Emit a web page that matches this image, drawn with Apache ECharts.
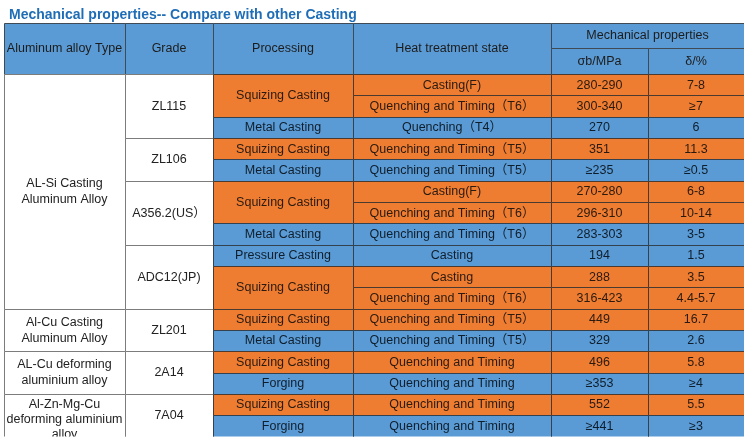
<!DOCTYPE html>
<html>
<head>
<meta charset="utf-8">
<script src="https://cdn.jsdelivr.net/npm/echarts@6/dist/echarts.min.js"></script>
<style>html,body{margin:0;padding:0;background:#fff}#c{width:750px;height:440px}</style>
</head>
<body>
<div id="c"></div>
<script>
// ---------- DATA ----------
const titleText = 'Mechanical properties-- Compare with other Casting';
const headerLabels = ['Aluminum alloy Type', 'Grade', 'Processing', 'Heat treatment state'];
const groupHeader = 'Mechanical properties';
const subHeaders = ['σb/MPa', 'δ/%'];

const alloyTypes = ['AL-Si Casting\nAluminum Alloy', 'Al-Cu Casting\nAluminum Alloy', 'AL-Cu deforming\naluminium alloy', 'Al-Zn-Mg-Cu\ndeforming aluminium\nalloy'];
const alloyTypeSpans = [11, 2, 2, 2];

const grades = ['ZL115', 'ZL106', 'A356.2(US）', 'ADC12(JP)', 'ZL201', '2A14', '7A04'];
const gradeSpans = [3, 2, 3, 3, 2, 2, 2];

const processing = ['Squizing Casting', 'Metal Casting', 'Squizing Casting', 'Metal Casting', 'Squizing Casting', 'Metal Casting', 'Pressure Casting', 'Squizing Casting', 'Squizing Casting', 'Metal Casting', 'Squizing Casting', 'Forging', 'Squizing Casting', 'Forging'];
const processingSpans = [2, 1, 1, 1, 2, 1, 1, 2, 1, 1, 1, 1, 1, 1];

const heatTreatment = ['Casting(F)', 'Quenching and Timing（T6）', 'Quenching（T4）', 'Quenching and Timing（T5）', 'Quenching and Timing（T5）', 'Casting(F)', 'Quenching and Timing（T6）', 'Quenching and Timing（T6）', 'Casting', 'Casting', 'Quenching and Timing（T6）', 'Quenching and Timing（T5）', 'Quenching and Timing（T5）', 'Quenching and Timing', 'Quenching and Timing', 'Quenching and Timing', 'Quenching and Timing'];
const tensileStrength = ['280-290', '300-340', '270', '351', '≥235', '270-280', '296-310', '283-303', '194', '288', '316-423', '449', '329', '496', '≥353', '552', '≥441'];
const elongation = ['7-8', '≥7', '6', '11.3', '≥0.5', '6-8', '10-14', '3-5', '1.5', '3.5', '4.4-5.7', '16.7', '2.6', '5.8', '≥4', '5.5', '≥3'];

// ---------- LAYOUT / STYLE ----------
const colEdges = [0, 121, 209, 349, 547, 644, 740];
const headerTop = -2.392, headerMid = -1.22;
const ORANGE = '#EE7D32', BLUE = '#5B9BD5', WHITE = '#ffffff';
const FONT = 'Liberation Sans, Arial, Noto Sans CJK SC, sans-serif';

const cells = [];
function addCell(c0, c1, r0, r1, text, kind, extra) {
  cells.push(Object.assign({ c0, c1, r0, r1, text, kind }, extra || {}));
}
// header
headerLabels.forEach((t, i) => addCell(i, i + 1, headerTop, 0, t, 'header'));
addCell(4, 6, headerTop, headerMid, groupHeader, 'header');
subHeaders.forEach((t, i) => addCell(4 + i, 5 + i, headerMid, 0, t, 'header'));

// body
let r = 0;
alloyTypes.forEach((t, i) => {
  addCell(0, 1, r, r + alloyTypeSpans[i], t, 'white', i === 3 ? { lh: 15, dy: 4 } : { lh: 16 });
  r += alloyTypeSpans[i];
});
r = 0;
grades.forEach((t, i) => { addCell(1, 2, r, r + gradeSpans[i], t, 'white'); r += gradeSpans[i]; });
r = 0;
const rowKinds = [];
processing.forEach((t, i) => {
  const k = t === 'Squizing Casting' ? 'orange' : 'blue';
  addCell(2, 3, r, r + processingSpans[i], t, k);
  for (let j = 0; j < processingSpans[i]; j++) rowKinds.push(k);
  r += processingSpans[i];
});
heatTreatment.forEach((t, i) => addCell(3, 4, i, i + 1, t, rowKinds[i]));
tensileStrength.forEach((t, i) => addCell(4, 5, i, i + 1, t, rowKinds[i]));
elongation.forEach((t, i) => addCell(5, 6, i, i + 1, t, rowKinds[i]));

const styleOf = {
  header: { fill: BLUE, stroke: '#3f4a55', text: '#1c1c1c' },
  orange: { fill: ORANGE, stroke: '#4a3a30', text: '#2a1a10' },
  blue: { fill: BLUE, stroke: '#34414e', text: '#0f1e2c' },
  white: { fill: WHITE, stroke: '#7c7c7c', text: '#222222' }
};

const seriesData = cells.map((c, i) => [colEdges[c.c0], colEdges[c.c1], c.r0, c.r1, i]);

const chart = echarts.init(document.getElementById('c'), null, { renderer: 'canvas' });
chart.setOption({
  animation: false,
  title: {
    text: titleText, left: 4, top: 3,
    textStyle: { fontSize: 14, fontWeight: 'bold', color: '#1F6DB6', fontFamily: FONT }
  },
  grid: { left: 4, right: 6, top: 23, bottom: 3.5 },
  xAxis: { type: 'value', min: 0, max: 740, show: false },
  yAxis: { type: 'value', min: headerTop, max: 17, inverse: true, show: false },
  series: [{
    type: 'custom',
    clip: true,
    encode: { x: [0, 1], y: [2, 3] },
    data: seriesData,
    renderItem: function (params, api) {
      const c = cells[api.value(4)];
      const p0 = api.coord([api.value(0), api.value(2)]);
      const p1 = api.coord([api.value(1), api.value(3)]);
      const s = styleOf[c.kind];
      const x = Math.round(p0[0]) + 0.5, y = Math.round(p0[1]) + 0.5;
      const w = Math.round(p1[0]) - Math.round(p0[0]), h = Math.round(p1[1]) - Math.round(p0[1]);
      return {
        type: 'group',
        children: [
          { type: 'rect', shape: { x, y, width: w, height: h }, style: { fill: s.fill, stroke: s.stroke, lineWidth: 1 } },
          { type: 'text', style: {
              text: c.text, x: (p0[0] + p1[0]) / 2, y: (p0[1] + p1[1]) / 2 + 0.5 + (c.dy || 0),
              align: 'center', verticalAlign: 'middle',
              fontSize: 12.5, fontFamily: FONT, fill: s.text, lineHeight: c.lh || 15
          } }
        ]
      };
    }
  }]
});
</script>
</body>
</html>
